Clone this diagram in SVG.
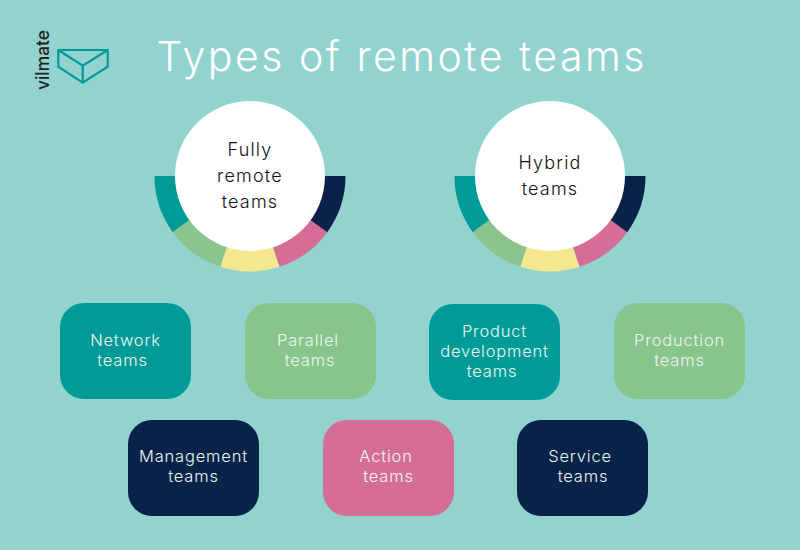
<svg xmlns="http://www.w3.org/2000/svg" width="800" height="550" viewBox="0 0 800 550">
  <defs>
    <!-- Half ring of five equal wedges with a white disc on top -->
    <g id="ring">
      <path fill="#009B96" d="M250 176L154.500 176A95.500 95.500 0 0 0 172.740 232.130Z"/>
      <path fill="#8BC48D" d="M250 176L172.740 232.130A95.500 95.500 0 0 0 220.490 266.830Z"/>
      <path fill="#F3E88E" d="M250 176L220.490 266.830A95.500 95.500 0 0 0 279.510 266.830Z"/>
      <path fill="#D66D97" d="M250 176L279.510 266.830A95.500 95.500 0 0 0 327.260 232.130Z"/>
      <path fill="#082248" d="M250 176L327.260 232.130A95.500 95.500 0 0 0 345.500 176Z"/>
      <circle cx="250" cy="176" r="75" fill="#fff"/>
    </g>
  </defs>
  <style>
    text { font-family: "Inter", "Liberation Sans", sans-serif; font-weight: 300; text-anchor: middle; }
    .title { font-size: 41px; fill: #fff; font-weight: 300; }
    .dark { font-size: 18px; fill: #111; letter-spacing: 1.200px; }
    .box { font-size: 16.500px; fill: #EAF7F3; letter-spacing: 0.800px; }
    .teal { fill: #009B96; } .green { fill: #89C48B; } .navy { fill: #082248; } .pink { fill: #D66D97; }
    .logo { fill: none; stroke: #009B96; stroke-width: 2.200; stroke-linejoin: miter; }
  </style>
  <rect width="800" height="550" fill="#92D3CF"/>

  <g id="logo">
    <text transform="translate(49 60) rotate(-90)" style="font-size:18px;font-weight:500;fill:#222" textLength="60" lengthAdjust="spacingAndGlyphs">vilmate</text>
    <path class="logo" d="M58.300 50H107.700V66.700L82.700 82.700L58.300 66.700ZM58.300 50L82.700 65.700L107.700 50M82.700 65.700V82.700"/>
  </g>

  <text id="title" class="title" x="400.500" y="71" textLength="488" lengthAdjust="spacing">Types of remote teams</text>

  <g id="fully-remote">
    <use href="#ring"/>
    <text class="dark" x="250" y="156">Fully</text>
    <text class="dark" x="250" y="182">remote</text>
    <text class="dark" x="250" y="208">teams</text>
  </g>
  <g id="hybrid">
    <use href="#ring" x="300"/>
    <text class="dark" x="550" y="169">Hybrid</text>
    <text class="dark" x="550" y="195">teams</text>
  </g>

  <g id="network"><rect class="teal" x="60" y="303" width="131" height="96" rx="24"/>
    <text class="box" x="125.500" y="346">Network</text><text class="box" x="122.500" y="366">teams</text></g>
  <g id="parallel"><rect class="green" x="245" y="303" width="131" height="96" rx="24"/>
    <text class="box" x="308" y="346">Parallel</text><text class="box" x="310" y="366">teams</text></g>
  <g id="product"><rect class="teal" x="429" y="304" width="131" height="96" rx="24"/>
    <text class="box" x="494.500" y="337">Product</text><text class="box" x="494.500" y="357">development</text><text class="box" x="492" y="377">teams</text></g>
  <g id="production"><rect class="green" x="614" y="303" width="131" height="96" rx="24"/>
    <text class="box" x="679.500" y="346">Production</text><text class="box" x="679.500" y="366">teams</text></g>
  <g id="management"><rect class="navy" x="128" y="420" width="131" height="96" rx="24"/>
    <text class="box" x="193.500" y="462">Management</text><text class="box" x="193.500" y="482">teams</text></g>
  <g id="action"><rect class="pink" x="323" y="420" width="131" height="96" rx="24"/>
    <text class="box" x="386" y="462">Action</text><text class="box" x="388.500" y="482">teams</text></g>
  <g id="service"><rect class="navy" x="517" y="420" width="131" height="96" rx="24"/>
    <text class="box" x="580" y="462">Service</text><text class="box" x="583" y="482">teams</text></g>
</svg>
